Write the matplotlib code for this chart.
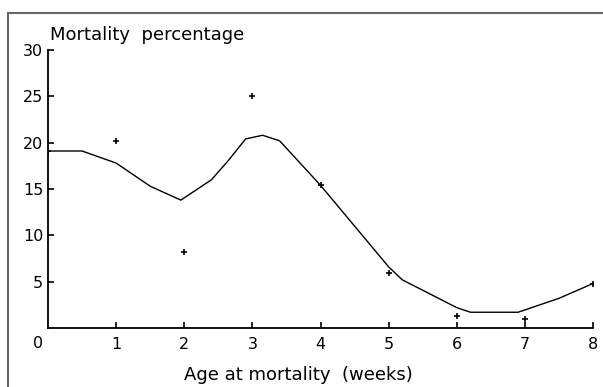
import matplotlib
matplotlib.use("Agg")
import matplotlib.pyplot as plt
from matplotlib.lines import Line2D

plt.rcParams['font.family'] = ['DejaVu Sans']

# observed mortality per week
weeks = [0, 1, 2, 3, 4, 5, 6, 7, 8]
mortality = [19.1, 20.2, 8.2, 25.0, 15.4, 5.9, 1.3, 1.0, 4.8]

# smoothed curve
curve_x = [0, 0.5, 1, 1.2, 1.5, 1.95, 2.4, 2.65, 2.9, 3.15, 3.4, 4, 4.5, 5, 5.2, 5.6, 6, 6.2, 6.9, 7.5, 8]
curve_y = [19.1, 19.1, 17.8, 16.8, 15.3, 13.8, 16.0, 18.1, 20.4, 20.8, 20.2, 15.4, 11.0, 6.6, 5.2, 3.7, 2.2, 1.7, 1.7, 3.2, 4.8]

xticks = [1, 2, 3, 4, 5, 6, 7, 8]
yticks = [5, 10, 15, 20, 25, 30]

W, H = 603, 387
fig = plt.figure(figsize=(W / 100, H / 100), dpi=100)
ax = fig.add_axes([48 / W, (H - 328) / H, (593 - 48) / W, (328 - 50) / H])

ax.plot(curve_x, curve_y, color='black', lw=1.0)
ax.plot(weeks, mortality, '+', color='black', ms=4, mew=1.2)

ax.set_xlim(0, 8)
ax.set_ylim(0, 30)
ax.set_xticks(xticks)
ax.set_yticks(yticks)
ax.tick_params(direction='in', length=4, width=1.2, labelsize=11.5)
ax.tick_params(axis='x', pad=6.3)
ax.tick_params(axis='y', pad=3.4)
for s in ['top', 'right']:
    ax.spines[s].set_visible(False)
for s in ['left', 'bottom']:
    ax.spines[s].set_linewidth(1.3)

fig.text(38 / W, 1 - 343 / H, '0', ha='center', va='center', fontsize=11.5)
fig.text(50 / W, 1 - 40 / H, 'Mortality  percentage', ha='left', va='baseline', fontsize=13)
fig.text(298 / W, 1 - 380 / H, 'Age at mortality  (weeks)', ha='center', va='baseline', fontsize=13)

# outer frame (left and top edges)
fig.add_artist(Line2D([8 / W, 8 / W], [0, 1 - 13 / H], transform=fig.transFigure, color='#666666', lw=1.5))
fig.add_artist(Line2D([8 / W, 1], [1 - 13 / H, 1 - 13 / H], transform=fig.transFigure, color='#666666', lw=1.5))

fig.savefig('out.png', dpi=100)
